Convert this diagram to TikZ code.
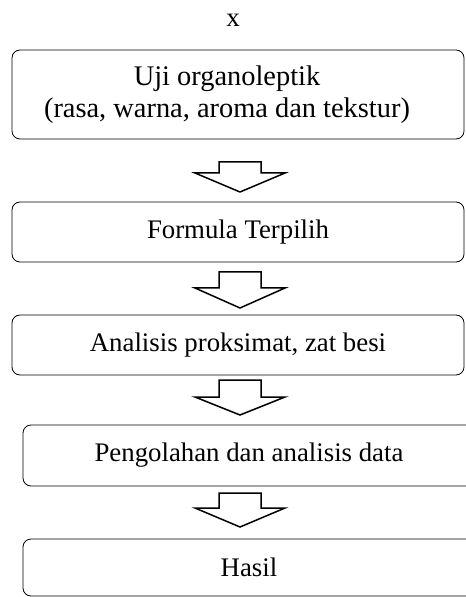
\documentclass[tikz,border=0pt]{standalone}
\usepackage{fontspec}
\setmainfont{Liberation Serif}

\begin{document}
\begin{tikzpicture}[x=0.5pt, y=-0.5pt,
    box/.style={rectangle, draw, rounded corners=4pt, minimum width=226pt,
                align=center, inner sep=0pt, font=\fontsize{13.4}{13.5}\selectfont},
    blockarrow/.style={draw, line width=0.75pt, line join=miter}
]
\useasboundingbox (0,0) rectangle (465,597);
\node[font=\fontsize{13.5}{13.5}\selectfont] (X) at (233,20) {x};
\node[box, minimum height=44.5pt, font=\fontsize{14.2}{16}\selectfont] (uji) at (238,94.5)
    {Uji organoleptik\hspace*{11pt}\\(rasa, warna, aroma dan tekstur)\hspace*{11pt}};
\node[box, minimum height=30pt] (formula) at (238,232) {Formula Terpilih};
\node[box, minimum height=30pt] (analisis) at (238,345) {Analisis proksimat, zat besi};
\node[box, minimum height=30.5pt] (olah) at (249,455.5) {Pengolahan dan analisis data};
\node[box, minimum height=28.5pt] (hasil) at (249,567.5) {Hasil};
\foreach \t/\h/\e in {162/173/192, 272/288/308, 380/397/415, 493/508/527}
    \draw[blockarrow] (219,\t) -- (261,\t) -- (261,\h) -- (285,\h) -- (240,\e)
        -- (195,\h) -- (219,\h) -- cycle;
\end{tikzpicture}
\end{document}
